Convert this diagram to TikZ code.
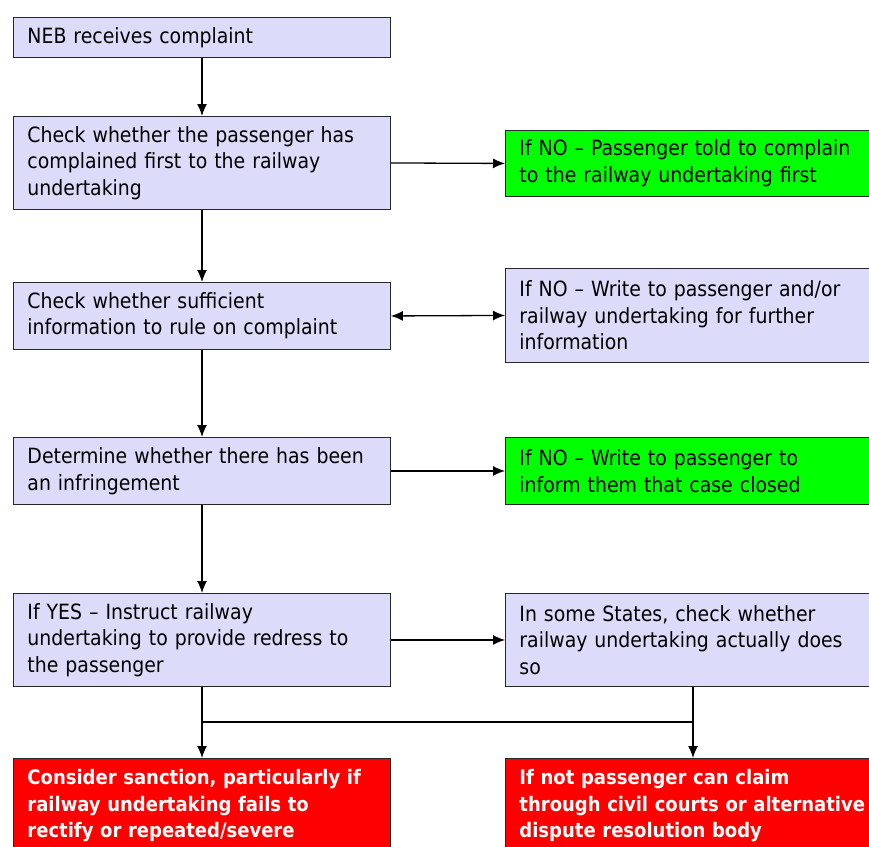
\documentclass[tikz,border=0pt]{standalone}
\usepackage{fontspec}
\setmainfont{DejaVu Sans Condensed}
\usetikzlibrary{arrows.meta}
\definecolor{lav}{RGB}{220,220,250}
\definecolor{grn}{RGB}{0,255,0}
\definecolor{rd}{RGB}{255,0,0}
\definecolor{edge}{RGB}{40,40,40}
\begin{document}
\begin{tikzpicture}[x=1pt,y=-1pt,
  box/.style={draw=edge, line width=0.9pt, anchor=north west, align=left,
    inner xsep=14pt, inner ysep=0pt, font=\fontsize{21}{26.5}\selectfont,
    text width=349pt, minimum width=377pt},
  lbox/.style={box, fill=lav},
  gbox/.style={box, fill=grn, minimum width=380pt, text width=352pt},
  rbox/.style={box, fill=lav, minimum width=380pt, text width=352pt},
  redbox/.style={box, fill=rd, text=white, font=\bfseries\fontsize{20}{26.5}\selectfont},
  conn/.style={line width=1.3pt, -{Latex[length=12pt,width=10pt]}},
  plain/.style={line width=1.3pt}]
\useasboundingbox (0,0) rectangle (869,846);
\clip (0,0) rectangle (869,846);
\node[lbox, minimum height=40pt] (b1) at (13,17) {NEB receives complaint};
\node[lbox, minimum height=93pt] (b2) at (13,116) {Check whether the passenger has\\complained first to the railway\\undertaking};
\node[gbox, minimum height=66pt] (g1) at (505,130) {If NO – Passenger told to complain\\to the railway undertaking first};
\node[lbox, minimum height=67pt] (b3) at (13,282) {Check whether sufficient\\information to rule on complaint};
\node[rbox, minimum height=94pt] (r3) at (505,268) {If NO – Write to passenger and/or\\railway undertaking for further\\information};
\node[lbox, minimum height=67pt] (b4) at (13,437) {Determine whether there has been\\an infringement};
\node[gbox, minimum height=67pt] (g2) at (505,437) {If NO – Write to passenger to\\inform them that case closed};
\node[lbox, minimum height=93pt] (b5) at (13,593) {If YES – Instruct railway\\undertaking to provide redress to\\the passenger};
\node[rbox, minimum height=93pt] (r5) at (505,593) {In some States, check whether\\railway undertaking actually does\\so};
\node[redbox, minimum height=95pt] (x1) at (13,758) {Consider sanction, particularly if\\railway undertaking fails to\\rectify or repeated/severe};
\node[redbox, minimum height=95pt, minimum width=380pt, text width=352pt] (x2) at (505,758) {If not passenger can claim\\through civil courts or alternative\\dispute resolution body};
\coordinate (j1) at (202,722);
\coordinate (j2) at (693,722);
\draw[conn] (b1.south -| j1) -- (b2.north -| j1);
\draw[conn] (b2.south -| j1) -- (b3.north -| j1);
\draw[conn] (b3.south -| j1) -- (b4.north -| j1);
\draw[conn] (b4.south -| j1) -- (b5.north -| j1);
\draw[conn] (b2.east) -- (g1.west);
\draw[conn, {Latex[length=12pt,width=10pt]}-{Latex[length=12pt,width=10pt]}] (b3.east) -- (r3.west);
\draw[conn] (b4.east) -- (g2.west);
\draw[conn] (b5.east) -- (r5.west);
\draw[plain] (b5.south -| j1) -- (j1) -- (j2);
\draw[plain] (r5.south -| j2) -- (j2);
\draw[conn] (j1) -- (x1.north -| j1);
\draw[conn] (j2) -- (x2.north -| j2);
\end{tikzpicture}
\end{document}
